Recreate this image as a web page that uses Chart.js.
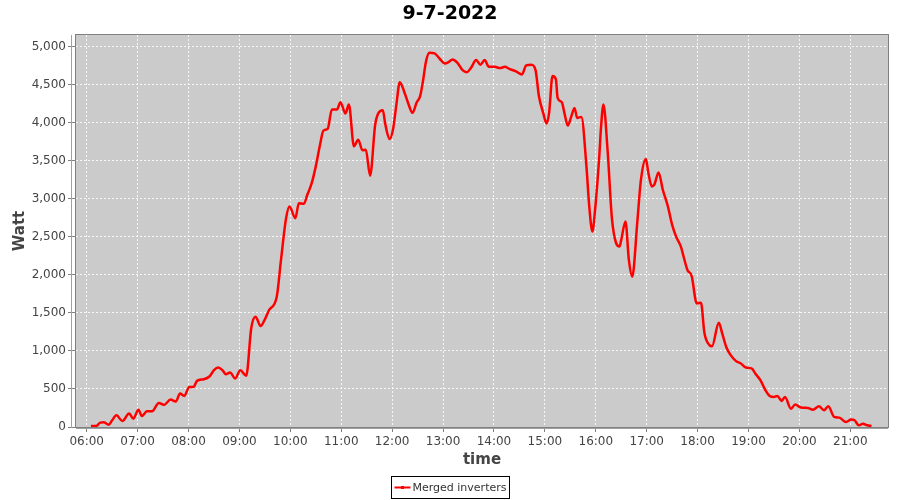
<!DOCTYPE html>
<html>
<head>
<meta charset="utf-8">
<script src="https://cdn.jsdelivr.net/npm/chart.js@4"></script>
<style>
  html, body { margin: 0; padding: 0; background: #fff; }
  #wrap { width: 900px; height: 500px; }
</style>
</head>
<body>
<div id="wrap"><canvas id="powerChart"></canvas></div>
<script>
// Merged inverters output, 9-7-2022
const seriesName = 'Merged inverters';
const chartTitle = '9-7-2022';

const times = [
    '06:05', '06:11', '06:16', '06:20', '06:26', '06:30', '06:35', '06:42', '06:50', '06:55',
    '07:01', '07:05', '07:11', '07:17', '07:25', '07:31', '07:39', '07:45', '07:50', '07:55',
    '08:01', '08:06', '08:10', '08:18', '08:25', '08:30', '08:35', '08:40', '08:44', '08:49',
    '08:55', '09:01', '09:08', '09:14', '09:19', '09:25', '09:30', '09:35', '09:44', '09:49',
    '09:55', '09:59', '10:06', '10:10', '10:16', '10:20', '10:25', '10:30', '10:35', '10:39',
    '10:44', '10:49', '10:55', '10:59', '11:05', '11:09', '11:15', '11:20', '11:25', '11:29',
    '11:34', '11:40', '11:43', '11:49', '11:52', '11:57', '12:01', '12:05', '12:09', '12:14',
    '12:19', '12:24', '12:29', '12:33', '12:36', '12:40', '12:44', '12:50', '12:56', '13:02',
    '13:07', '13:11', '13:17', '13:23', '13:28', '13:33', '13:39', '13:44', '13:49', '13:54',
    '14:01', '14:07', '14:13', '14:18', '14:26', '14:33', '14:38', '14:44', '14:49', '14:53',
    '14:58', '15:02', '15:05', '15:09', '15:13', '15:15', '15:20', '15:23', '15:27', '15:31',
    '15:35', '15:38', '15:43', '15:49', '15:52', '15:56', '15:59', '16:04', '16:06', '16:09',
    '16:14', '16:19', '16:24', '16:28', '16:30', '16:35', '16:39', '16:43', '16:49', '16:53',
    '16:59', '17:02', '17:06', '17:09', '17:14', '17:19', '17:25', '17:30', '17:35', '17:40',
    '17:44', '17:48', '17:53', '17:59', '18:04', '18:08', '18:14', '18:17', '18:25', '18:29',
    '18:34', '18:39', '18:45', '18:51', '18:57', '19:04', '19:08', '19:14', '19:20', '19:25',
    '19:30', '19:34', '19:39', '19:43', '19:50', '19:55', '20:02', '20:10', '20:16', '20:23',
    '20:29', '20:34', '20:41', '20:47', '20:55', '21:01', '21:05', '21:10', '21:15', '21:20',
    '21:25'
];

const watts = [
    13, 13, 57, 61, 31, 88, 154, 79, 176, 110,
    228, 145, 206, 206, 316, 290, 360, 334, 439, 408,
    527, 527, 606, 628, 667, 746, 781, 746, 694, 716,
    637, 746, 672, 1304, 1449, 1326, 1414, 1537, 1712, 2195,
    2744, 2897, 2744, 2941, 2932, 3051, 3196, 3424, 3709, 3894,
    3916, 4170, 4170, 4267, 4118, 4236, 3688, 3775, 3635, 3644,
    3301, 3973, 4105, 4162, 3973, 3784, 3907, 4236, 4530, 4412,
    4250, 4127, 4267, 4346, 4522, 4807, 4917, 4908, 4838, 4776,
    4798, 4829, 4785, 4688, 4662, 4719, 4820, 4759, 4820, 4732,
    4732, 4715, 4732, 4706, 4671, 4631, 4750, 4759, 4688, 4346,
    4127, 3986, 4127, 4610, 4566, 4324, 4267, 4127, 3960, 4074,
    4192, 4061, 4074, 3424, 2941, 2568, 2832, 3534, 3907, 4236,
    3622, 2744, 2414, 2371, 2458, 2700, 2195, 1975, 2700, 3227,
    3521, 3336, 3161, 3183, 3345, 3117, 2897, 2656, 2493, 2379,
    2217, 2063, 1984, 1624, 1633, 1238, 1076, 1062, 1370, 1229,
    1045, 944, 869, 834, 781, 768, 702, 615, 483, 408,
    395, 408, 342, 395, 241, 294, 255, 250, 228, 272,
    220, 272, 132, 123, 66, 97, 88, 22, 44, 22,
    13
];

// axis ticks
const xTickHours = [6, 7, 8, 9, 10, 11, 12, 13, 14, 15, 16, 17, 18, 19, 20, 21];
const yTickValues = [0, 500, 1000, 1500, 2000, 2500, 3000, 3500, 4000, 4500, 5000];

const xMin = 5.79;   // hours
const xMax = 21.74;
const yMax = 5150;

function toHours(hhmm) {
    const parts = hhmm.split(':');
    return parseInt(parts[0], 10) + parseInt(parts[1], 10) / 60;
}

function pad2(n) {
    return (n < 10 ? '0' : '') + n;
}

const points = times.map((t, i) => ({ x: toHours(t), y: watts[i] }));

// gray plot background, title, plot border, axis lines and the boxed legend
const plotDecor = {
    id: 'plotDecor',
    beforeDraw(chart) {
        const { ctx, chartArea: a } = chart;
        ctx.save();
        ctx.fillStyle = '#cbcbcb';
        ctx.fillRect(a.left, a.top, a.right - a.left, a.bottom - a.top);
        ctx.restore();
    },
    afterDraw(chart) {
        const { ctx, chartArea: a, width } = chart;
        ctx.save();
        // title, centred on the whole canvas
        ctx.fillStyle = '#000000';
        ctx.font = 'bold 19px "DejaVu Sans"';
        ctx.textAlign = 'center';
        ctx.textBaseline = 'middle';
        ctx.fillText(chartTitle, width / 2, 14);

        ctx.strokeStyle = '#808080';
        ctx.lineWidth = 1;
        ctx.strokeRect(a.left - 0.5, a.top - 0.5, a.right - a.left + 1, a.bottom - a.top + 1);
        // axis lines
        ctx.strokeStyle = '#a0a0a0';
        ctx.beginPath();
        ctx.moveTo(a.left - 4.5, a.top);
        ctx.lineTo(a.left - 4.5, a.bottom + 1);
        ctx.moveTo(a.left, a.bottom + 1.5);
        ctx.lineTo(a.right, a.bottom + 1.5);
        ctx.stroke();

        // legend
        ctx.font = '11px "DejaVu Sans"';
        ctx.textAlign = 'left';
        const textW = ctx.measureText(seriesName).width;
        const boxW = Math.round(textW + 24);
        const boxX = Math.round(width / 2 - boxW / 2) + 0.5;
        const boxY = 476.5;
        ctx.fillStyle = '#ffffff';
        ctx.fillRect(boxX, boxY, boxW, 22);
        ctx.strokeStyle = '#000000';
        ctx.strokeRect(boxX, boxY, boxW, 22);
        ctx.strokeStyle = '#ff0000';
        ctx.lineWidth = 2;
        ctx.beginPath();
        ctx.moveTo(boxX + 3, boxY + 11);
        ctx.lineTo(boxX + 19, boxY + 11);
        ctx.stroke();
        ctx.fillStyle = '#ff0000';
        ctx.fillRect(boxX + 9.5, boxY + 9.5, 3, 3);
        ctx.fillStyle = '#333333';
        ctx.fillText(seriesName, boxX + 21, boxY + 11.5);
        ctx.restore();
    }
};

const ctx = document.getElementById('powerChart');
new Chart(ctx.getContext('2d'), {
    type: 'line',
    data: {
        datasets: [{
            label: seriesName,
            data: points,
            borderColor: '#ff0000',
            backgroundColor: '#ff0000',
            borderWidth: 2.5,
            pointRadius: 0,
            cubicInterpolationMode: 'monotone',
            fill: false
        }]
    },
    options: {
        responsive: true,
        maintainAspectRatio: false,
        animation: false,
        layout: { padding: { left: 0, right: 12, top: 35, bottom: 30 } },
        plugins: {
            legend: { display: false },
            tooltip: { enabled: false },
            title: { display: false }
        },
        scales: {
            x: {
                type: 'linear',
                min: xMin,
                max: xMax,
                afterFit: (scale) => { scale.height = 43; },
                afterBuildTicks: (scale) => { scale.ticks = xTickHours.map(v => ({ value: v })); },
                ticks: {
                    autoSkip: false,
                    maxRotation: 0,
                    padding: 3,
                    color: '#444444',
                    font: { family: 'DejaVu Sans', size: 12 },
                    callback: (value) => pad2(value) + ':00'
                },
                grid: {
                    color: 'rgba(255,255,255,0.85)',
                    lineWidth: 1,
                    tickColor: '#808080',
                    tickLength: 5
                },
                border: { display: false, dash: [2, 2] },
                title: {
                    display: true,
                    text: 'time',
                    color: '#444444',
                    font: { family: 'DejaVu Sans', size: 15, weight: 'bold' },
                    padding: { top: 0, bottom: 1 }
                }
            },
            y: {
                min: 0,
                max: yMax,
                afterFit: (scale) => { scale.width = 76; },
                afterBuildTicks: (scale) => { scale.ticks = yTickValues.map(v => ({ value: v })); },
                ticks: {
                    padding: 2,
                    color: '#444444',
                    font: { family: 'DejaVu Sans', size: 12 },
                    callback: (value) => value.toLocaleString('en-US')
                },
                grid: {
                    color: 'rgba(255,255,255,0.85)',
                    lineWidth: 1,
                    tickColor: '#808080',
                    tickLength: 8
                },
                border: { display: false, dash: [2, 2] },
                title: {
                    display: true,
                    text: 'Watt',
                    color: '#444444',
                    font: { family: 'DejaVu Sans', size: 15, weight: 'bold' },
                    padding: { top: 11, bottom: 0 }
                }
            }
        }
    },
    plugins: [plotDecor]
});
</script>
</body>
</html>
